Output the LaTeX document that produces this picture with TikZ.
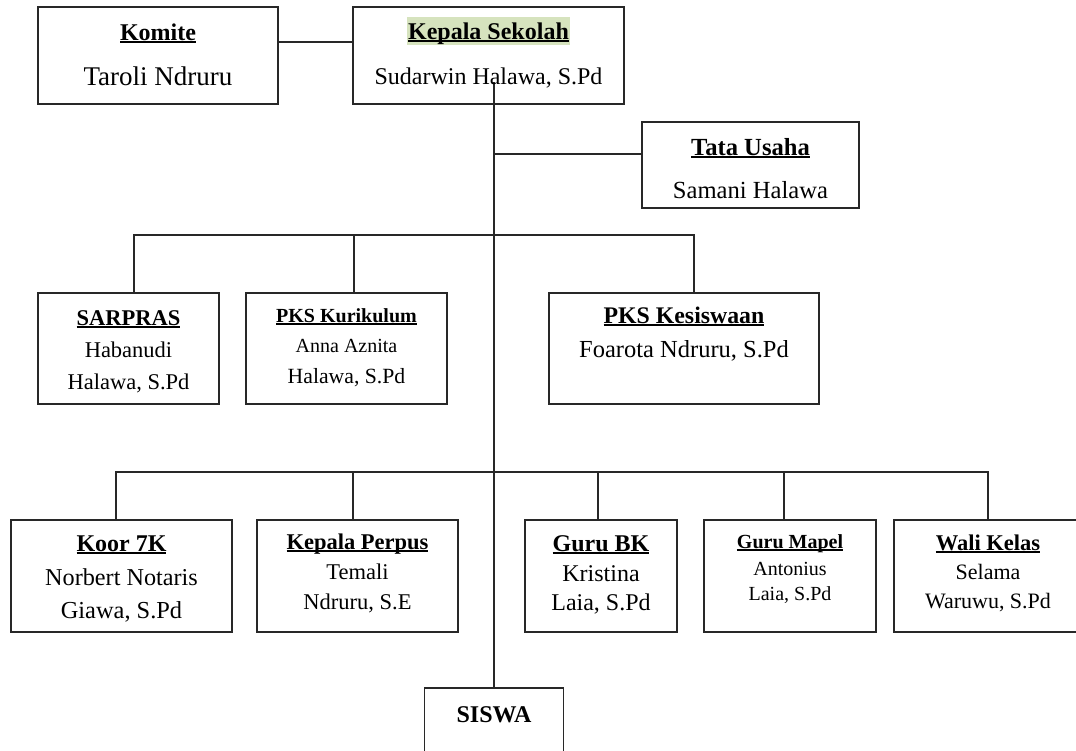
\documentclass[tikz,border=0pt]{standalone}
\usepackage{fontspec}
\setmainfont{Liberation Serif}
\definecolor{lc}{RGB}{40,40,40}
\definecolor{hl}{RGB}{214,227,190}
\newcommand\fsz[1]{\fontsize{#1}{#1}\selectfont}
\newcommand\ulbox[1]{\setbox0=\hbox{#1}\rlap{\rule[-0.13em]{\wd0}{0.075em}}\box0}
\begin{document}
\begin{tikzpicture}[x=1pt,y=-1pt,
  box/.style={draw=lc,line width=1.6pt,inner sep=0pt},
  ln/.style={draw=lc,line width=1.4pt},
  tx/.style={anchor=base,inner sep=0pt,text=black}]
\useasboundingbox (0,0) rectangle (1076,750);
\clip (0,0) rectangle (1076,750);
\fill[white] (0,0) rectangle (1076,750);

% boxes
\node[box,minimum width=240pt,minimum height=97pt] (komite) at (158,55.5) {};
\node[box,minimum width=271pt,minimum height=97pt] (kepala) at (488.5,55.5) {};
\node[box,minimum width=217pt,minimum height=86pt] (tu) at (750.5,165) {};
\node[box,minimum width=181pt,minimum height=111pt] (sarpras) at (128.5,348.5) {};
\node[box,minimum width=201pt,minimum height=111pt] (kur) at (346.5,348.5) {};
\node[box,minimum width=270pt,minimum height=111pt] (kes) at (684,348.5) {};
\node[box,minimum width=221pt,minimum height=112pt] (koor) at (121.5,576) {};
\node[box,minimum width=201pt,minimum height=112pt] (perpus) at (357.5,576) {};
\node[box,minimum width=152pt,minimum height=112pt] (bk) at (601,576) {};
\node[box,minimum width=172pt,minimum height=112pt] (mapel) at (790,576) {};
\node[box,minimum width=188pt,minimum height=112pt] (wali) at (988,576) {};
\node[box,minimum width=139pt,minimum height=102pt] (siswa) at (494,739) {};

% connectors
\draw[ln] ([yshift=13.5pt]komite.east) -- ([yshift=13.5pt]kepala.west);
\coordinate (trunk) at (494,82);
\draw[ln] (trunk) -- (siswa.north);
\coordinate (tuj) at (494,154);
\draw[ln] (tuj) -- (tuj -| tu.west);
\coordinate (m1) at (134,235);
\coordinate (m2) at (354,235);
\coordinate (m3) at (694,235);
\draw[ln] (m1 |- sarpras.north) -- (m1) -- (m3) -- (m3 |- kes.north);
\draw[ln] (m2) -- (m2 |- kur.north);
\coordinate (b1) at (116,472);
\coordinate (b2) at (353,472);
\coordinate (b3) at (598,472);
\coordinate (b4) at (784,472);
\coordinate (b5) at (988,472);
\draw[ln] (b1 |- koor.north) -- (b1) -- (b5) -- (b5 |- wali.north);
\draw[ln] (b2) -- (b2 |- perpus.north);
\draw[ln] (b3) -- (b3 |- bk.north);
\draw[ln] (b4) -- (b4 |- mapel.north);

% texts
\node[tx,font=\fsz{24}] (komite-a) at (158,40) {\ulbox{\textbf{Komite}}};
\node[tx,font=\fsz{27}] (komite-b) at (158,85.5) {Taroli Ndruru};
\node[tx,font=\fsz{24},fill=hl,text height=22pt,text depth=6pt,inner xsep=1.5pt] (kepala-a) at (488.5,39) {\ulbox{\textbf{Kepala Sekolah}}};
\node[tx,font=\fsz{24}] (kepala-b) at (488.5,84) {Sudarwin Halawa, S.Pd};
\node[tx,font=\fsz{24.6}] (tu-a) at (750.5,155) {\ulbox{\textbf{Tata Usaha}}};
\node[tx,font=\fsz{24.6}] (tu-b) at (750.5,198) {Samani Halawa};

\node[tx,font=\fsz{22.5}] (sarpras-a) at (128.5,325) {\ulbox{\textbf{SARPRAS}}};
\node[tx,font=\fsz{22.5}] (sarpras-b) at (128.5,357) {Habanudi};
\node[tx,font=\fsz{22.5}] (sarpras-c) at (128.5,389) {Halawa, S.Pd};
\node[tx,font=\fsz{20}] (kur-a) at (346.5,322) {\ulbox{\textbf{PKS Kurikulum}}};
\node[tx,font=\fsz{20}] (kur-b) at (346.5,352.5) {Anna Aznita};
\node[tx,font=\fsz{21.7}] (kur-c) at (346.5,383) {Halawa, S.Pd};
\node[tx,font=\fsz{23.8}] (kes-a) at (684,323) {\ulbox{\textbf{PKS Kesiswaan}}};
\node[tx,font=\fsz{24.5}] (kes-b) at (684,357) {Foarota Ndruru, S.Pd};

\node[tx,font=\fsz{24}] (koor-a) at (121.5,551) {\ulbox{\textbf{Koor 7K}}};
\node[tx,font=\fsz{24.2}] (koor-b) at (121.5,585) {Norbert Notaris};
\node[tx,font=\fsz{24.4}] (koor-c) at (121.5,618) {Giawa, S.Pd};
\node[tx,font=\fsz{22.5}] (perpus-a) at (357.5,549) {\ulbox{\textbf{Kepala Perpus}}};
\node[tx,font=\fsz{22.5}] (perpus-b) at (357.5,579) {Temali};
\node[tx,font=\fsz{22.5}] (perpus-c) at (357.5,609) {Ndruru, S.E};
\node[tx,font=\fsz{24}] (bk-a) at (601,551) {\ulbox{\textbf{Guru BK}}};
\node[tx,font=\fsz{24}] (bk-b) at (601,581) {Kristina};
\node[tx,font=\fsz{24}] (bk-c) at (601,610) {Laia, S.Pd};
\node[tx,font=\fsz{20}] (mapel-a) at (790,548) {\ulbox{\textbf{Guru Mapel}}};
\node[tx,font=\fsz{20}] (mapel-b) at (790,575) {Antonius};
\node[tx,font=\fsz{20}] (mapel-c) at (790,600) {Laia, S.Pd};
\node[tx,font=\fsz{22.5}] (wali-a) at (988,550) {\ulbox{\textbf{Wali Kelas}}};
\node[tx,font=\fsz{22}] (wali-b) at (988,579) {Selama};
\node[tx,font=\fsz{22}] (wali-c) at (988,608) {Waruwu, S.Pd};
\node[tx,font=\fsz{24}] (siswa-a) at (494,722) {\textbf{SISWA}};
\end{tikzpicture}
\end{document}
